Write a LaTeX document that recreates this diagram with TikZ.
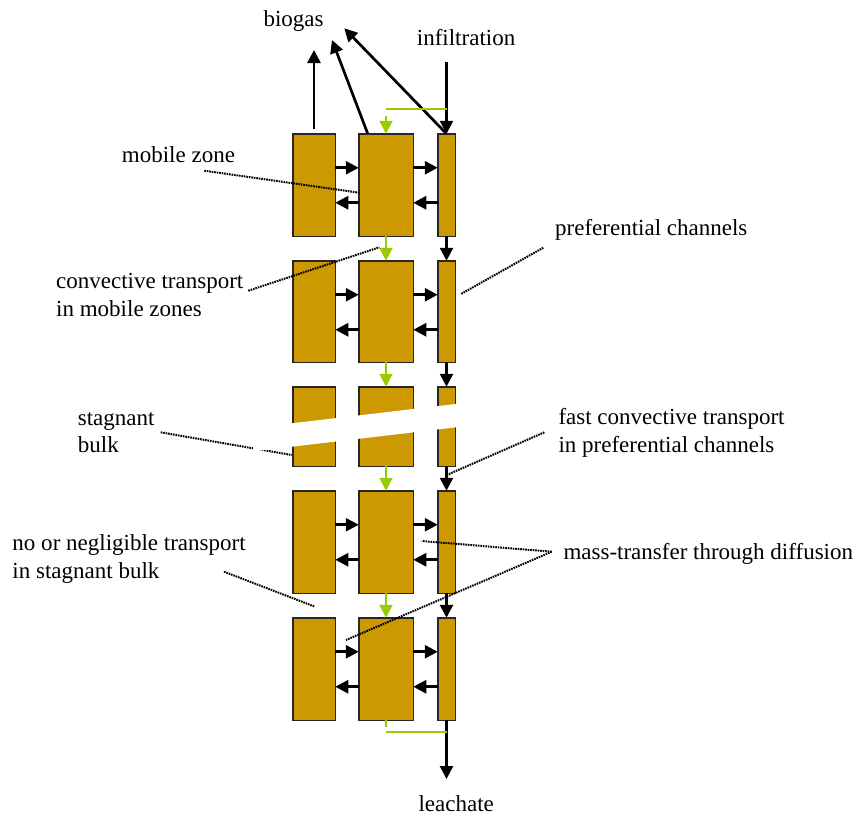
\documentclass[tikz,border=0pt]{standalone}
\usepackage{fontspec}
\setmainfont{Liberation Serif}
\usetikzlibrary{arrows.meta}
\definecolor{ochre}{HTML}{CC9900}
\definecolor{lime}{HTML}{99CC00}
\begin{document}
\begin{tikzpicture}[x=1pt,y=-1pt,
  cell/.style={draw=black!85, line width=1.5pt, fill=ochre, inner sep=0pt, outer sep=0pt, rectangle},
  arr/.style={-{Triangle[length=13pt,width=13pt]}, line width=2.7pt, black},
  garr/.style={-{Triangle[length=13pt,width=13pt]}, line width=2pt, color=lime},
  gline/.style={line width=1.2pt, color=lime},
  lead/.style={line width=2pt, dash pattern=on 1.6pt off 0.9pt},
  lbl/.style={inner sep=0pt, anchor=base west, align=left, font=\fontsize{23}{27.5}\selectfont}]
\useasboundingbox (0,0) rectangle (858,815);

% cells
\foreach \r/\cy/\h in {1/185/102.5, 2/311.5/101.5, 3/426.5/79.5, 4/542/102.5, 5/669/102.5}{
  \node[cell, minimum width=42.5pt, minimum height=\h pt] (L\r) at (314,\cy) {};
  \node[cell, minimum width=54.5pt, minimum height=\h pt] (M\r) at (386,\cy) {};
  \node[cell, minimum width=17.5pt, minimum height=\h pt] (R\r) at (446.5,\cy) {};
}

% exchange arrows
\foreach \r in {1,2,4,5}{
  \draw[arr] ([yshift=-34pt]L\r.north east) -- ([yshift=-34pt]M\r.north west);
  \draw[arr] ([yshift=-69pt]M\r.north west) -- ([yshift=-69pt]L\r.north east);
  \draw[arr] ([yshift=-34pt]M\r.north east) -- ([yshift=-34pt]R\r.north west);
  \draw[arr] ([yshift=-69pt]R\r.north west) -- ([yshift=-69pt]M\r.north east);
}

% vertical transport
\foreach \a/\b in {1/2,2/3,3/4,4/5}{
  \draw[garr] (M\a.south) -- (M\b.north);
  \draw[arr] (R\a.south) -- (R\b.north);
}

% labels (base anchor of a multi-line node = last line)
\node[lbl] (biogas) at (263.3,26.7) {biogas};
\node[lbl] (infil) at (416.7,45.7) {infiltration};
\node[lbl] (mobile) at (121.7,162.7) {mobile zone};
\node[lbl] (conv) at (56,316) {convective transport\\in mobile zones};
\node[lbl] (pref) at (555,235) {preferential channels};
\node[lbl] (stag) at (77.7,452.7) {stagnant\\bulk};
\node[lbl] (fast) at (558.3,452.2) {fast convective transport\\in preferential channels};
\node[lbl] (nonegl) at (12.3,578) {no or negligible transport\\in stagnant bulk};
\node[lbl] (mass) at (563.3,559.3) {mass-transfer through diffusion};
\node[lbl] (leach) at (418.3,811) {leachate};

% inflow / outflow
\coordinate (infTop) at (446.5,62);
\coordinate (bg1) at (314,50);
\coordinate (bg2) at (332,40);
\coordinate (bg3) at (344.3,28.3);
\coordinate (leachTip) at (446.5,779);
\draw[arr] (infTop) -- (R1.north);
\draw[arr] ([yshift=5pt]L1.north) -- (bg1);
\draw[arr] ([xshift=9pt]M1.north west) -- (bg2);
\draw[arr] (R1.north) -- (bg3);
\draw[arr] (R5.south) -- (leachTip);

% green top and bottom lines
\coordinate (gtR) at (446.5,109);
\coordinate (gtM) at (386,109);
\coordinate (gtS) at (386,116);
\draw[gline] (gtR) -- (gtM);
\draw[garr] (gtS) -- (M1.north);
\coordinate (gbM) at (386,727);
\coordinate (gbL) at (386,732);
\coordinate (gbR) at (446.5,732);
\draw[line width=2pt, lime] (M5.south) -- (gbM);
\draw[gline] (gbL) -- (gbR);

% leader lines
\coordinate (mobA) at (204.3,170.7); \coordinate (mobB) at (359.3,192.7);
\coordinate (convA) at (248.3,290.7); \coordinate (convB) at (379.3,247.3);
\coordinate (prefA) at (543.3,247.7); \coordinate (prefB) at (461,294);
\coordinate (stagA) at (160.7,432.3); \coordinate (stagB) at (291.7,455);
\coordinate (fastA) at (544.3,432.3); \coordinate (fastB) at (446.7,475);
\coordinate (negA) at (224,571.7); \coordinate (negB) at (315,606.7);
\coordinate (massA) at (551.7,551.7); \coordinate (massB) at (421.7,541); \coordinate (massC) at (346,640);
\draw[lead] (mobA) -- (mobB);
\draw[lead] (convA) -- (convB);
\draw[lead] (prefA) -- (prefB);
\draw[lead] (stagA) -- (stagB);
\draw[lead] (fastA) -- (fastB);
\draw[lead] (negA) -- (negB);
\draw[lead] (massA) -- (massB);
\draw[lead] (massA) -- (massC);

% break band across row 3
\fill[white] (253,427.9) -- (462,403.2) -- (462,426.6) -- (253,451.3) -- cycle;
\end{tikzpicture}
\end{document}
